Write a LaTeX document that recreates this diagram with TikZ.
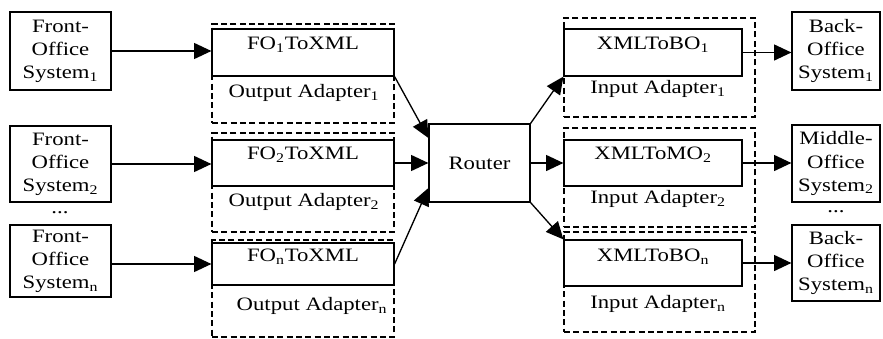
\documentclass[tikz,border=0pt]{standalone}
\usepackage{fontspec}
\setmainfont{Liberation Serif}[FakeStretch=1.2]
\usetikzlibrary{arrows.meta,calc}

\begin{document}
\begin{tikzpicture}[x=0.75pt,y=-0.75pt,
  font=\fontsize{14.2}{17.3}\selectfont,
  rect/.style 2 args={minimum width=#1*0.75pt,minimum height=#2*0.75pt},
  sysbox/.style={draw,line width=0.9pt,align=center,inner sep=0pt},
  convbox/.style={draw,line width=0.9pt,fill=white,inner sep=0pt},
  adapter/.style={draw,line width=2pt,dash pattern=on 4.5pt off 2.5pt,inner sep=0pt},
  plain/.style={inner sep=0pt},
  link/.style={line width=1pt,-{Triangle[length=13pt,width=12pt]}},
]
\useasboundingbox (0,0) rectangle (883,339);

% front-office systems
\node[sysbox,rect={101}{78}] (L1) at (60.5,51) {Front-\\Office\\System\textsubscript{1}};
\node[sysbox,rect={101}{76}] (L2) at (60.5,164) {Front-\\Office\\System\textsubscript{2}};
\node[plain] (Ldots) at (60,213) {...};
\node[sysbox,rect={101}{72}] (L3) at (60.5,261) {Front-\\Office\\System\textsubscript{n}};

% output adapters
\node[adapter,rect={182}{99}] (OA1) at (303,73.5) {};
\node[convbox,rect={182}{47}] (FO1) at (303,52.5) {};
\node[plain] (FO1t) at (303,45) {FO\textsubscript{1}ToXML};
\node[plain] (OA1t) at (304,93) {Output Adapter\textsubscript{1}};

\node[adapter,rect={182}{99}] (OA2) at (303,182.5) {};
\node[convbox,rect={182}{46}] (FO2) at (303,163) {};
\node[plain] (FO2t) at (303,155) {FO\textsubscript{2}ToXML};
\node[plain] (OA2t) at (304,202) {Output Adapter\textsubscript{2}};

\node[adapter,rect={182}{97}] (OA3) at (303,288.5) {};
\node[convbox,rect={182}{42}] (FOn) at (303,264) {};
\node[plain] (FOnt) at (303,257) {FO\textsubscript{n}ToXML};
\node[plain] (OA3t) at (312,306) {Output Adapter\textsubscript{n}};

% router
\node[sysbox,rect={101}{78}] (R) at (479.5,163) {Router};

% input adapters
\node[adapter,rect={191}{99}] (IA1b) at (659.5,67.5) {};
\node[convbox,rect={178}{47}] (IA1) at (653,52.5) {};
\node[plain] (IA1t) at (653,45) {XMLToBO\textsubscript{1}};
\node[plain] (IA1l) at (658,89) {Input Adapter\textsubscript{1}};

\node[adapter,rect={191}{99}] (IA2b) at (659.5,177.5) {};
\node[convbox,rect={178}{46}] (IA2) at (653,163) {};
\node[plain] (IA2t) at (653,155) {XMLToMO\textsubscript{2}};
\node[plain] (IA2l) at (658,199) {Input Adapter\textsubscript{2}};

\node[adapter,rect={191}{100}] (IA3b) at (659.5,282) {};
\node[convbox,rect={178}{46}] (IAn) at (653,263) {};
\node[plain] (IA3t) at (653,257) {XMLToBO\textsubscript{n}};
\node[plain] (IA3l) at (658,304) {Input Adapter\textsubscript{n}};

% back- and middle-office systems
\node[sysbox,rect={88}{78}] (B1) at (836,51) {Back-\\Office\\System\textsubscript{1}};
\node[sysbox,rect={88}{77}] (B2) at (836,163.5) {Middle-\\Office\\System\textsubscript{2}};
\node[plain] (Rdots) at (836,212) {...};
\node[sysbox,rect={88}{76}] (B3) at (836,263) {Back-\\Office\\System\textsubscript{n}};

% connectors
\draw[link] (L1.east) -- (L1.east -| FO1.west);
\draw[link] (L2.east) -- (L2.east -| FO2.west);
\draw[link] (FOn.west -| L3.east) -- (FOn.west);
\draw[link] (FO1.south east) -- ($(R.west)+(0,-25)$);
\draw[link] (FO2.east) -- (FO2.east -| R.west);
\draw[link] (FOn.east) -- ($(R.west)+(0,25)$);
\draw[link] (R.north east) -- (IA1.south west);
\draw[link] (R.east) -- (R.east -| IA2.west);
\draw[link] (R.south east) -- (IAn.north west);
\draw[link] (IA1.east) -- (IA1.east -| B1.west);
\draw[link] (IA2.east) -- (IA2.east -| B2.west);
\draw[link] (IAn.east) -- (IAn.east -| B3.west);
\end{tikzpicture}
\end{document}
